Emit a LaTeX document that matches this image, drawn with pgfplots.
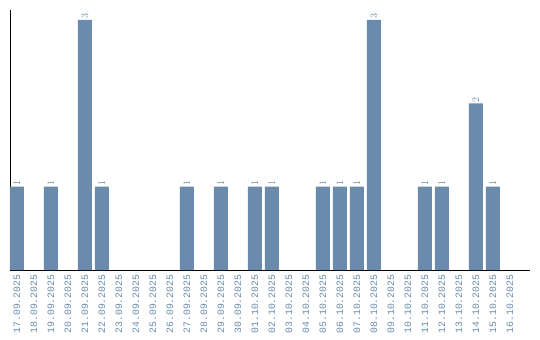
\documentclass[border=0pt]{standalone}
\usepackage{fontspec}
\usepackage{pgfplots}
\pgfplotsset{compat=1.18}
\newfontfamily\monof{Liberation Mono}
\definecolor{barc}{RGB}{106,139,171}
\begin{document}
\begin{tikzpicture}
\path[use as bounding box] (-10bp,-70bp) rectangle (530bp,270bp);
\begin{axis}[
  at={(0,0)}, anchor=south west,
  scale only axis, width=520bp, height=260bp,
  xmin=-0.41, xmax=30.18, ymin=0, ymax=3.12,
  axis x line*=bottom, axis y line*=left,
  x axis line style={-, line width=0.8pt},
  y axis line style={-, line width=0.8pt},
  ytick=\empty,
  xtick={0,...,29},
  xticklabels={17.09.2025,18.09.2025,19.09.2025,20.09.2025,21.09.2025,22.09.2025,23.09.2025,24.09.2025,25.09.2025,26.09.2025,27.09.2025,28.09.2025,29.09.2025,30.09.2025,01.10.2025,02.10.2025,03.10.2025,04.10.2025,05.10.2025,06.10.2025,07.10.2025,08.10.2025,09.10.2025,10.10.2025,11.10.2025,12.10.2025,13.10.2025,14.10.2025,15.10.2025,16.10.2025},
  major tick length=0pt,
  xticklabel style={font=\monof\fontsize{9.8bp}{11bp}\selectfont, text=barc, rotate=90, anchor=east, inner sep=0pt, xshift=0.5bp},
  xticklabel shift=5bp,
  ybar, bar width=14bp,
  clip=false,
  nodes near coords,
  nodes near coords style={font=\monof\fontsize{9.8bp}{11bp}\selectfont, text=barc, rotate=90, anchor=west, inner sep=1bp},
]
\addplot[fill=barc, draw=none, bar shift=0pt] coordinates {
(0,1) (2,1) (4,3) (5,1) (10,1) (12,1) (14,1) (15,1) (18,1) (19,1) (20,1) (21,3) (24,1) (25,1) (27,2) (28,1)
};
\end{axis}
\end{tikzpicture}
\end{document}
